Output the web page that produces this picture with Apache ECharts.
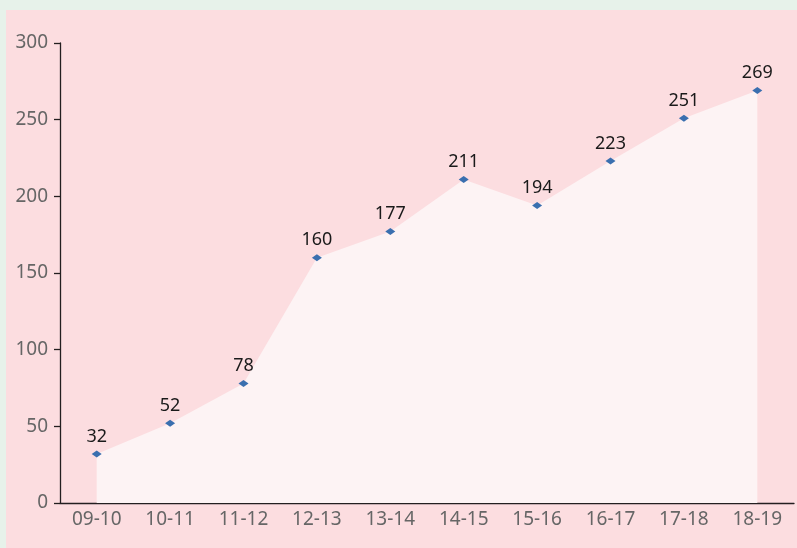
<!DOCTYPE html>
<html><head><meta charset="utf-8">
<script src="https://cdn.jsdelivr.net/npm/echarts@6/dist/echarts.min.js"></script>
<style>
html,body{margin:0;padding:0;background:#e7f2ea;width:797px;height:548px;overflow:hidden;}
#c{position:absolute;left:6px;top:10px;width:791px;height:538px;}
</style></head><body>
<div id="c"></div>
<script>
const categories = ['09-10','10-11','11-12','12-13','13-14','14-15','15-16','16-17','17-18','18-19'];
const values = [32, 52, 78, 160, 177, 211, 194, 223, 251, 269];
const yTicks = [0, 50, 100, 150, 200, 250, 300];

const chart = echarts.init(document.getElementById('c'));
chart.setOption({
  backgroundColor: '#fcdde0',
  animation: false,
  grid: {left: 54, right: 3, top: 33, bottom: 45},
  xAxis: {
    type: 'category', data: categories, boundaryGap: true,
    axisLine: {lineStyle: {color: '#231f20', width: 1.3}},
    axisTick: {length: 7, lineStyle: {color: '#231f20', width: 1.3}},
    axisLabel: {color: '#666', fontSize: 19, fontFamily: 'Noto Sans', margin: 7}
  },
  yAxis: {
    type: 'value', min: yTicks[0], max: yTicks[yTicks.length-1], interval: 50,
    splitLine: {show: false},
    axisLine: {show: true, lineStyle: {color: '#231f20', width: 1.3}},
    axisTick: {show: true, length: 6, lineStyle: {color: '#231f20', width: 1.3}},
    axisLabel: {color: '#666', fontSize: 19, fontFamily: 'Noto Sans', margin: 12}
  },
  series: [{
    type: 'line', data: values,
    symbol: 'diamond', symbolSize: [10, 7],
    itemStyle: {color: '#3a6faf'},
    lineStyle: {width: 0},
    areaStyle: {color: '#fdf3f4', opacity: 1},
    label: {show: true, position: 'top', distance: 5, color: '#1a1a1a', fontSize: 18, fontFamily: 'Noto Sans'}
  }]
});
</script></body></html>
